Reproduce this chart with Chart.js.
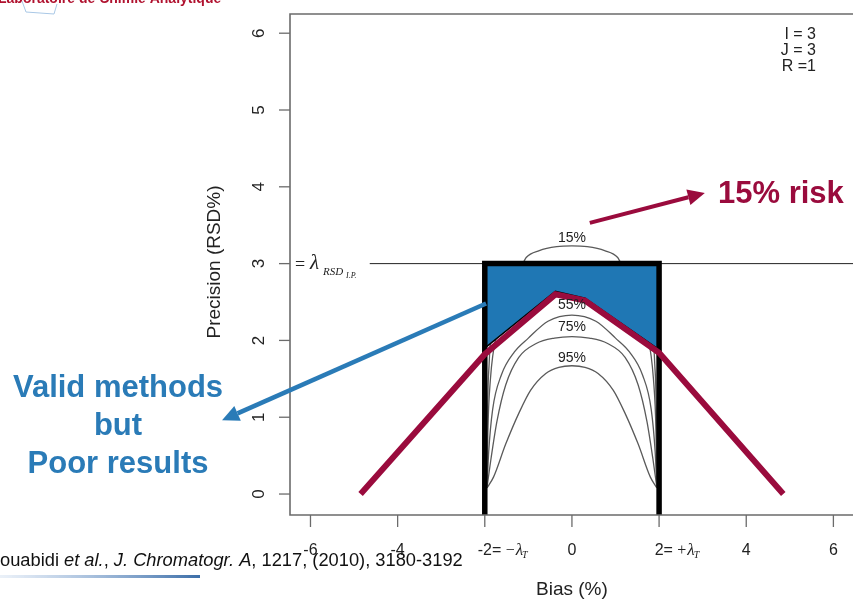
<!DOCTYPE html>
<html>
<head>
<meta charset="utf-8">
<script src="https://cdn.jsdelivr.net/npm/chart.js@4.4.0/dist/chart.umd.min.js"></script>
<style>
html, body { margin: 0; padding: 0; background: #fff; overflow: hidden; }
#wrap { width: 853px; height: 601px; position: relative; }
</style>
</head>
<body>
<div id="wrap"><canvas id="chart" width="853" height="601"></canvas></div>
<script>
// axis ranges (R pads 4% past the data)
const xMin = -6.47, xMax = 6.45;
const yMin = -0.273, yMax = 6.25;
const xTicks = [-6, -4, -2, 0, 2, 4, 6];
const yTicks = [0, 1, 2, 3, 4, 5, 6];

// acceptance limits
const lambdaT = 2;
const lambdaRSD = 3;

// risk contours (bias %, RSD %)
const riskLabels = ['15%', '35%', '55%', '75%', '95%'];
const risk15X = [-1.95, -1.94, -1.9, -1.78, -1.5, -1.13, -1.05, -0.75, -0.35, 0, 0.35, 0.75, 1.05, 1.13, 1.5, 1.78, 1.9, 1.94, 1.95];
const risk15Y = [0.08, 0.9, 1.7, 2.4, 2.85, 3.0, 3.08, 3.17, 3.22, 3.23, 3.22, 3.17, 3.08, 3.0, 2.85, 2.4, 1.7, 0.9, 0.08];
const risk35X = [-1.95, -1.93, -1.87, -1.72, -1.45, -1.05, -0.55, 0, 0.55, 1.05, 1.45, 1.72, 1.87, 1.93, 1.95];
const risk35Y = [0.08, 0.8, 1.5, 2.1, 2.5, 2.72, 2.82, 2.85, 2.82, 2.72, 2.5, 2.1, 1.5, 0.8, 0.08];
const risk55X = [-1.95, -1.91, -1.82, -1.62, -1.32, -1.0, -0.55, 0, 0.55, 1.0, 1.32, 1.62, 1.82, 1.91, 1.95];
const risk55Y = [0.08, 0.55, 1.1, 1.55, 1.85, 2.03, 2.25, 2.33, 2.25, 2.03, 1.85, 1.55, 1.1, 0.55, 0.08];
const risk75X = [-1.95, -1.86, -1.72, -1.52, -1.22, -0.82, -0.4, 0, 0.4, 0.82, 1.22, 1.52, 1.72, 1.86, 1.95];
const risk75Y = [0.08, 0.45, 0.95, 1.42, 1.78, 1.96, 2.03, 2.05, 2.03, 1.96, 1.78, 1.42, 0.95, 0.45, 0.08];
const risk95X = [-1.95, -1.8, -1.52, -1.22, -0.95, -0.6, -0.3, 0, 0.3, 0.6, 0.95, 1.22, 1.52, 1.8, 1.95];
const risk95Y = [0.08, 0.22, 0.65, 1.05, 1.35, 1.57, 1.65, 1.67, 1.65, 1.57, 1.35, 1.05, 0.65, 0.22, 0.08];

// "valid methods but poor results" zone, filled up to lambdaRSD
const poorX = [-2, -0.38, 0.3, 2];
const poorY = [1.9, 2.64, 2.55, 1.88];

// the red profile
const profileX = [-4.85, -2, -0.38, 0.3, 2, 4.85];
const profileY = [0, 1.82, 2.6, 2.52, 1.84, 0];

const crimson = '#9a0b3d';
const blue = '#1f77b4';
const textBlue = '#2a7bb7';
const sans = '"Liberation Sans", Arial, sans-serif';
const serif = '"Liberation Serif", "Times New Roman", serif';

function pts(xs, ys) {
  return xs.map((v, i) => ({ x: v, y: ys[i] }));
}

function arrow(ctx, x0, y0, x1, y1, color, w, headLen, headW) {
  const ang = Math.atan2(y1 - y0, x1 - x0);
  const bx = x1 - headLen * Math.cos(ang), by = y1 - headLen * Math.sin(ang);
  ctx.strokeStyle = color;
  ctx.fillStyle = color;
  ctx.lineWidth = w;
  ctx.lineCap = 'butt';
  ctx.beginPath();
  ctx.moveTo(x0, y0);
  ctx.lineTo(bx, by);
  ctx.stroke();
  ctx.beginPath();
  ctx.moveTo(x1, y1);
  ctx.lineTo(bx + headW * Math.sin(ang), by - headW * Math.cos(ang));
  ctx.lineTo(bx - headW * Math.sin(ang), by + headW * Math.cos(ang));
  ctx.closePath();
  ctx.fill();
}

// tick label of the form "-2= −λT"
function lambdaTick(ctx, px, py, num, sign) {
  ctx.textAlign = 'center';
  ctx.textBaseline = 'alphabetic';
  ctx.font = '16px ' + sans;
  const nw = ctx.measureText(num).width;
  ctx.fillText(num, px, py);
  let cx = px + nw / 2;
  ctx.textAlign = 'left';
  ctx.fillText('=', cx, py);
  cx += ctx.measureText('= ').width;
  ctx.font = '16px ' + serif;
  ctx.fillText(sign, cx, py);
  cx += ctx.measureText(sign).width + 1;
  ctx.font = 'italic 17px ' + serif;
  ctx.fillText('λ', cx, py);
  cx += ctx.measureText('λ').width;
  ctx.font = 'italic 10px ' + serif;
  ctx.fillText('T', cx - 1, py + 3);
}

const decor = {
  id: 'decor',
  afterDatasetsDraw(chart) {
    const { ctx, chartArea: a, scales: { x, y } } = chart;
    ctx.save();

    // plot box (right side falls off the picture)
    ctx.strokeStyle = '#6b6b6b';
    ctx.lineWidth = 1.6;
    ctx.beginPath();
    ctx.moveTo(a.right + 2, a.top);
    ctx.lineTo(a.left, a.top);
    ctx.lineTo(a.left, a.bottom);
    ctx.lineTo(a.right + 2, a.bottom);
    ctx.stroke();

    // y axis ticks, labels rotated as in R
    ctx.fillStyle = '#222';
    ctx.lineWidth = 1.3;
    yTicks.forEach(v => {
      const py = y.getPixelForValue(v);
      ctx.beginPath();
      ctx.moveTo(a.left - 11, py);
      ctx.lineTo(a.left, py);
      ctx.stroke();
      ctx.save();
      ctx.translate(259, py);
      ctx.rotate(-Math.PI / 2);
      ctx.font = '17px ' + sans;
      ctx.textAlign = 'center';
      ctx.textBaseline = 'middle';
      ctx.fillText(String(v), 0, 0);
      ctx.restore();
    });

    // x axis ticks
    xTicks.forEach(v => {
      const px = x.getPixelForValue(v);
      ctx.beginPath();
      ctx.moveTo(px, a.bottom);
      ctx.lineTo(px, a.bottom + 12);
      ctx.stroke();
      if (v === -lambdaT) {
        lambdaTick(ctx, px, 555, String(v), '−');
      } else if (v === lambdaT) {
        lambdaTick(ctx, px, 555, String(v), '+');
      } else {
        ctx.font = '16px ' + sans;
        ctx.textAlign = 'center';
        ctx.textBaseline = 'alphabetic';
        ctx.fillText(String(v), px, 555);
      }
    });

    // axis titles
    ctx.font = '19px ' + sans;
    ctx.textAlign = 'center';
    ctx.textBaseline = 'middle';
    ctx.fillText('Bias (%)', x.getPixelForValue(0), 590);
    ctx.save();
    ctx.translate(215, 262);
    ctx.rotate(-Math.PI / 2);
    ctx.fillText('Precision (RSD%)', 0, 0);
    ctx.restore();

    // lambda RSD label on the limit line
    const ly = y.getPixelForValue(lambdaRSD) + 2;
    ctx.textAlign = 'left';
    ctx.textBaseline = 'alphabetic';
    ctx.font = '18px ' + serif;
    ctx.fillText('=', 295, ly + 4);
    ctx.font = 'italic 21px ' + serif;
    ctx.fillText('λ', 310, ly + 3);
    ctx.font = 'italic 11px ' + serif;
    ctx.fillText('RSD', 323, ly + 9);
    ctx.font = 'italic 8px ' + serif;
    ctx.fillText('I.P.', 346, ly + 12);

    // risk contour labels
    const labelAt = { '15%': 3.33, '55%': 2.46, '75%': 2.17, '95%': 1.77 };
    ctx.font = '14px ' + sans;
    ctx.textAlign = 'center';
    ctx.textBaseline = 'middle';
    riskLabels.forEach(r => {
      if (labelAt[r] === undefined) return;
      ctx.fillText(r, x.getPixelForValue(0), y.getPixelForValue(labelAt[r]));
    });

    // design parameters
    ctx.font = '16px ' + sans;
    ctx.textAlign = 'right';
    ctx.fillText('I = 3', 816, 35);
    ctx.fillText('J = 3', 816, 51);
    ctx.fillText('R =1', 816, 67);

    // annotations
    arrow(ctx, x.getPixelForValue(0.41), y.getPixelForValue(3.53),
      x.getPixelForValue(3.05), y.getPixelForValue(3.92), crimson, 4, 17, 8);
    arrow(ctx, x.getPixelForValue(-1.97), y.getPixelForValue(2.48),
      x.getPixelForValue(-8.03), y.getPixelForValue(0.96), textBlue, 4.5, 17, 8);

    ctx.font = 'bold 31px ' + sans;
    ctx.fillStyle = crimson;
    ctx.textAlign = 'left';
    ctx.fillText('15% risk', 718, 194);

    ctx.fillStyle = textBlue;
    ctx.textAlign = 'center';
    ctx.fillText('Valid methods', 118, 388);
    ctx.fillText('but', 118, 426);
    ctx.fillText('Poor results', 118, 464);

    // citation, its first letter clipped on the left
    const parts = [
      ['Bouabidi ', ''], ['et al.', 'italic '], [', ', ''],
      ['J. Chromatogr. A', 'italic '], [', 1217, (2010), 3180-3192', '']
    ];
    ctx.fillStyle = '#111';
    ctx.textAlign = 'left';
    ctx.textBaseline = 'middle';
    ctx.font = '18.3px ' + sans;
    let cx = -ctx.measureText('B').width;
    parts.forEach(p => {
      ctx.font = p[1] + '18.3px ' + sans;
      ctx.fillText(p[0], cx, 561);
      cx += ctx.measureText(p[0]).width;
    });
    const g = ctx.createLinearGradient(0, 0, 200, 0);
    g.addColorStop(0, 'rgba(120,160,210,0.15)');
    g.addColorStop(1, '#3c6ea8');
    ctx.fillStyle = g;
    ctx.fillRect(0, 575, 200, 3);

    // cut-off header at the top left
    ctx.fillStyle = '#b0122f';
    ctx.font = 'bold 14px ' + sans;
    ctx.textBaseline = 'alphabetic';
    ctx.fillText('Laboratoire de Chimie Analytique', -2, 3);
    ctx.strokeStyle = '#a9c8e6';
    ctx.lineWidth = 1;
    ctx.beginPath();
    ctx.moveTo(22, 1); ctx.lineTo(26, 12); ctx.lineTo(54, 14); ctx.lineTo(57, 4);
    ctx.stroke();

    ctx.restore();
  }
};

const riskSets = [
  [risk15X, risk15Y], [risk35X, risk35Y], [risk55X, risk55Y], [risk75X, risk75Y], [risk95X, risk95Y]
].map(([xs, ys], i) => ({
  label: riskLabels[i],
  data: pts(xs, ys),
  borderColor: '#5a5a5a',
  borderWidth: 1.3,
  cubicInterpolationMode: 'monotone',
  fill: false,
  order: 4
}));

new Chart(document.getElementById('chart'), {
  type: 'scatter',
  data: {
    datasets: [
      {
        label: 'limit RSD',
        data: pts([-4.64, xMax], [lambdaRSD, lambdaRSD]),
        borderColor: '#222',
        borderWidth: 1,
        fill: false,
        order: 5
      },
      ...riskSets,
      {
        label: 'poor results',
        data: pts(poorX, poorY),
        borderColor: '#000',
        borderWidth: 1.5,
        backgroundColor: blue,
        fill: { value: lambdaRSD },
        order: 3
      },
      {
        label: 'acceptance box',
        data: pts([-lambdaT, -lambdaT, lambdaT, lambdaT], [yMin, lambdaRSD, lambdaRSD, yMin]),
        borderColor: '#000',
        borderWidth: 5.5,
        borderJoinStyle: 'miter',
        fill: false,
        order: 2
      },
      {
        label: 'profile',
        data: pts(profileX, profileY),
        borderColor: crimson,
        borderWidth: 6,
        borderJoinStyle: 'miter',
        fill: false,
        order: 1
      }
    ]
  },
  options: {
    responsive: false,
    animation: false,
    events: [],
    showLine: true,
    elements: { point: { radius: 0 }, line: { tension: 0 } },
    layout: { padding: { left: 290, right: 0, top: 14, bottom: 86 } },
    scales: {
      x: { type: 'linear', min: xMin, max: xMax, display: false },
      y: { type: 'linear', min: yMin, max: yMax, display: false }
    },
    plugins: { legend: { display: false }, tooltip: { enabled: false } }
  },
  plugins: [decor]
});
</script>
</body>
</html>
